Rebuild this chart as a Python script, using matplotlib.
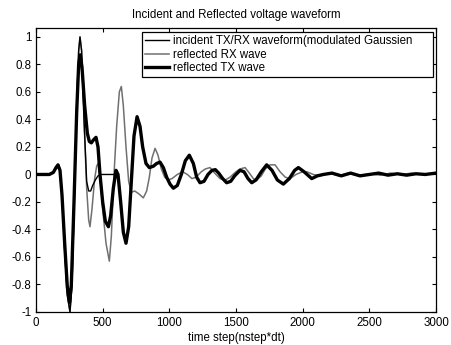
import matplotlib
matplotlib.use("Agg")
import matplotlib.pyplot as plt

plt.rcParams['font.family'] = ['Liberation Sans', 'DejaVu Sans']

# incident TX/RX waveform (modulated Gaussian)
inc_t = [0, 100, 130, 150, 165, 180, 195, 215, 235, 255, 270, 290, 305, 320, 330, 342,
         360, 380, 395, 410, 425, 445, 465, 490, 520, 560, 600]
inc_v = [0, 0, 0.015, 0.05, 0.07, 0.03, -0.15, -0.55, -0.88, -1.0, -0.8, -0.1, 0.5, 0.9,
         1.0, 0.9, 0.4, -0.05, -0.12, -0.12, -0.08, -0.04, -0.01, 0.0, 0.0, 0.0, 0.0]

# reflected RX wave
rx_t = [0, 100, 130, 150, 165, 180, 195, 215, 235, 255, 270, 290, 305, 320, 330, 342,
        360, 380, 395, 405, 420, 440, 455, 465, 480, 500, 525, 550, 565, 585, 605, 625,
        640, 655, 675, 695, 715, 740, 770, 805, 830, 850, 870, 893, 915, 940, 965, 993,
        1020, 1060, 1100, 1135, 1170, 1200, 1240, 1270, 1305, 1340, 1380, 1420, 1455,
        1500, 1530, 1568, 1600, 1630, 1655, 1690, 1720, 1755, 1793, 1830, 1870, 1905,
        1950, 2000, 2030, 2080, 2130, 2200, 2270, 2340, 2420, 2500, 2580, 2660, 2740,
        2820, 2900, 3000]
rx_v = [0, 0, 0.015, 0.05, 0.07, 0.03, -0.15, -0.55, -0.88, -1.0, -0.8, -0.1, 0.5, 0.9,
        1.0, 0.9, 0.4, -0.1, -0.33, -0.38, -0.25, -0.03, 0.06, 0.08, 0.0, -0.25, -0.5,
        -0.63, -0.45, 0.0, 0.35, 0.6, 0.64, 0.5, 0.2, -0.05, -0.13, -0.12, -0.14, -0.17,
        -0.12, -0.02, 0.12, 0.19, 0.14, 0.04, -0.02, -0.04, -0.03, 0.0, 0.02, 0.0, -0.03,
        -0.02, 0.02, 0.04, 0.05, 0.01, -0.03, -0.04, -0.02, 0.02, 0.04, 0.05, 0.01,
        -0.03, -0.04, -0.01, 0.04, 0.07, 0.07, 0.02, -0.02, -0.03, 0.0, 0.02, 0.02, 0.0,
        -0.01, 0.01, -0.01, 0.01, -0.01, 0.005, -0.005, 0.01, 0.0, 0.01, 0.0, 0.01]

# reflected TX wave
tx_t = [0, 100, 130, 150, 165, 180, 195, 215, 235, 252, 265, 285, 305, 320, 332, 345,
        365, 385, 400, 415, 430, 450, 465, 480, 500, 520, 543, 560, 580, 600, 615, 635,
        655, 675, 695, 715, 735, 758, 780, 800, 825, 850, 880, 905, 930, 955, 980, 1005,
        1030, 1060, 1090, 1120, 1150, 1180, 1205, 1230, 1260, 1290, 1320, 1345, 1370,
        1400, 1430, 1460, 1490, 1530, 1560, 1590, 1618, 1650, 1690, 1730, 1770, 1810,
        1855, 1900, 1940, 1968, 2010, 2068, 2110, 2155, 2220, 2290, 2360, 2430, 2500,
        2570, 2640, 2710, 2780, 2850, 2920, 3000]
tx_v = [0, 0, 0.015, 0.05, 0.07, 0.03, -0.15, -0.5, -0.82, -0.93, -0.8, -0.2, 0.45, 0.8,
        0.87, 0.78, 0.5, 0.3, 0.24, 0.23, 0.25, 0.27, 0.2, 0.0, -0.2, -0.34, -0.38, -0.3,
        -0.1, 0.03, 0.0, -0.2, -0.42, -0.5, -0.38, -0.05, 0.28, 0.42, 0.35, 0.2, 0.08,
        0.05, 0.06, 0.08, 0.09, 0.05, -0.02, -0.07, -0.10, -0.08, 0.0, 0.10, 0.14, 0.08,
        -0.02, -0.06, -0.05, 0.0, 0.03, 0.035, 0.01, -0.03, -0.06, -0.05, -0.01, 0.03,
        0.02, -0.03, -0.06, -0.04, 0.02, 0.07, 0.03, -0.04, -0.07, -0.03, 0.03, 0.05,
        0.02, -0.03, -0.01, 0.0, 0.01, -0.01, 0.01, -0.01, 0.0, 0.01, -0.005, 0.005,
        -0.005, 0.005, 0.0, 0.01]

labels = ['incident TX/RX waveform(modulated Gaussien',
          'reflected RX wave',
          'reflected TX wave']
x_ticks = [0, 500, 1000, 1500, 2000, 2500, 3000]
y_ticks = [-1, -0.8, -0.6, -0.4, -0.2, 0, 0.2, 0.4, 0.6, 0.8, 1]

FS = 8.3
fig = plt.figure(figsize=(4.51, 3.45), dpi=100)
ax = fig.add_axes([36 / 451, 1 - 312 / 345, 400 / 451, 284 / 345])

ax.plot(inc_t, inc_v, color='black', lw=1.0, label=labels[0], zorder=3)
ax.plot(rx_t, rx_v, color='#707070', lw=1.1, label=labels[1], zorder=2)
ax.plot(tx_t, tx_v, color='black', lw=2.4, label=labels[2], zorder=4)

ax.set_xlim(0, 3000)
ax.set_ylim(-1, 1.065)
ax.set_xticks(x_ticks)
ax.set_yticks(y_ticks)
ax.set_yticklabels(['-1', '-0.8', '-0.6', '-0.4', '-0.2', '0', '0.2', '0.4', '0.6', '0.8', '1'])
ax.tick_params(direction='in', top=True, right=True, labelsize=FS, length=3, width=0.8)
for s in ax.spines.values():
    s.set_linewidth(0.9)

ax.set_title('Incident and Reflected voltage waveform', fontsize=FS, pad=7)
ax.set_xlabel('time step(nstep*dt)', fontsize=FS, labelpad=2)

leg = ax.legend(loc='upper left', bbox_to_anchor=(0.265, 0.852, 0.7275, 0.134),
                mode='expand', fontsize=FS,
                frameon=True, fancybox=False, edgecolor='black', framealpha=1,
                handlelength=2.0, handletextpad=0.4, borderpad=0.3,
                labelspacing=0.1, borderaxespad=0.0)
leg.get_frame().set_linewidth(0.9)

fig.savefig('out.png', dpi=100)
